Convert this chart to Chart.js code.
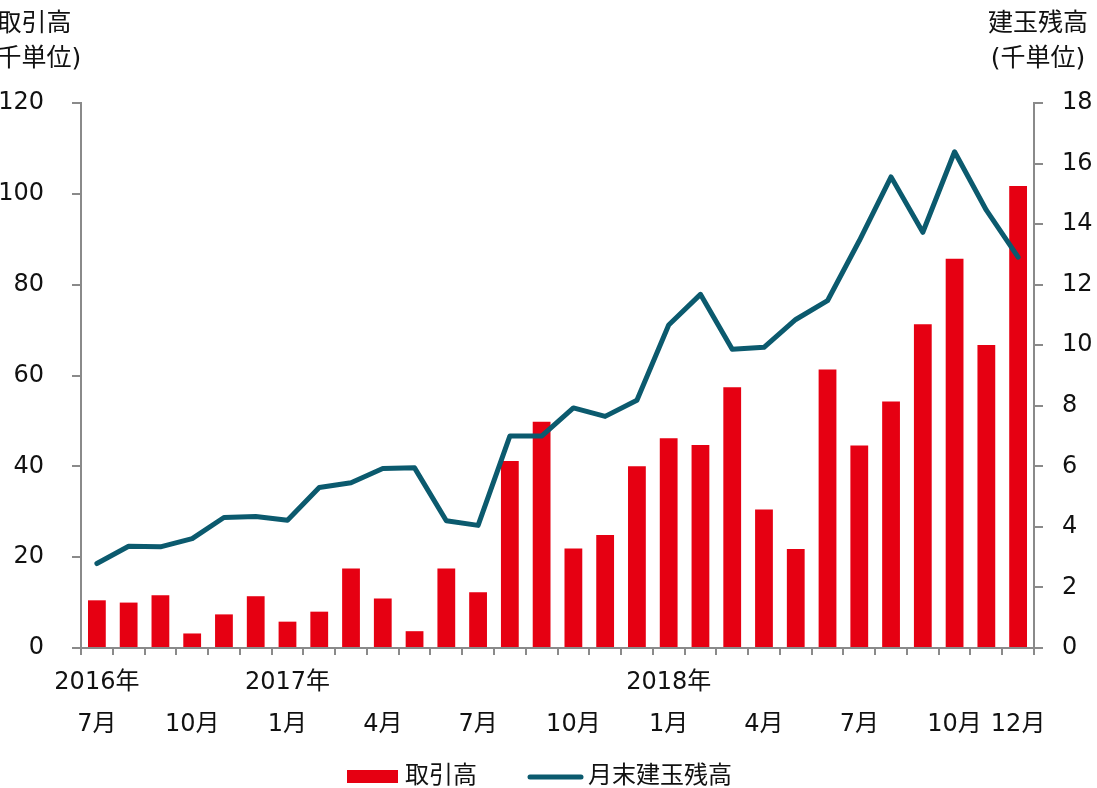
<!DOCTYPE html>
<html lang="ja">
<head>
<meta charset="utf-8">
<title>取引高・月末建玉残高</title>
<script src="https://cdn.jsdelivr.net/npm/chart.js@4.4.1/dist/chart.umd.min.js"></script>
<style>
    html, body { margin: 0; padding: 0; background: #fff; overflow: hidden; }
    #volumeChart { display: block; }
</style>
</head>
<body>
<canvas id="volumeChart" width="1097" height="788"></canvas>
<script>
// monthly data, 2016/7 - 2018/12
const months = [
    '2016年7月', '2016年8月', '2016年9月', '2016年10月', '2016年11月', '2016年12月',
    '2017年1月', '2017年2月', '2017年3月', '2017年4月', '2017年5月', '2017年6月',
    '2017年7月', '2017年8月', '2017年9月', '2017年10月', '2017年11月', '2017年12月',
    '2018年1月', '2018年2月', '2018年3月', '2018年4月', '2018年5月', '2018年6月',
    '2018年7月', '2018年8月', '2018年9月', '2018年10月', '2018年11月', '2018年12月'
];

// 取引高 (千単位) - left axis
const volume = [
    10.5, 10.0, 11.6, 3.2, 7.4, 11.4,
    5.8, 8.0, 17.5, 10.9, 3.7, 17.5,
    12.3, 41.2, 49.8, 21.9, 24.9, 40.0,
    46.2, 44.7, 57.4, 30.5, 21.8, 61.3,
    44.6, 54.3, 71.3, 85.7, 66.7, 101.7
];

// 月末建玉残高 (千単位) - right axis
const openInterest = [
    2.79, 3.36, 3.34, 3.61, 4.31, 4.34,
    4.22, 5.30, 5.46, 5.93, 5.95, 4.20,
    4.05, 7.00, 7.00, 7.93, 7.65, 8.18,
    10.67, 11.68, 9.87, 9.93, 10.85, 11.47,
    13.45, 15.56, 13.73, 16.39, 14.46, 12.91
];

// x axis tick labels (two rows)
const yearTickIndex = [0, 6, 18];
const yearTickText = ['2016年', '2017年', '2018年'];
const monthTickIndex = [0, 3, 6, 9, 12, 15, 18, 21, 24, 27, 29];
const monthTickText = ['7月', '10月', '1月', '4月', '7月', '10月', '1月', '4月', '7月', '10月', '12月'];

const seriesNames = ['取引高', '月末建玉残高'];
const leftTitle = ['取引高', '(千単位)'];
const rightTitle = ['建玉残高', '(千単位)'];

const FONT = "'DejaVu Sans', 'Noto Sans CJK JP', sans-serif";
const AXIS_GREY = '#8a8a8a';
const RED = '#e60012';
const TEAL = '#0b5a6e';

// axis titles + legend, drawn on the canvas
const decorations = {
    id: 'decorations',
    afterDraw(chart) {
        const ctx = chart.ctx;
        ctx.save();
        ctx.fillStyle = '#111';
        ctx.textAlign = 'center';
        ctx.textBaseline = 'middle';
        ctx.font = '25px ' + FONT;
        ctx.fillText(leftTitle[0], 34, 24);
        ctx.fillText(leftTitle[1], 34, 59);
        ctx.fillText(rightTitle[0], 1038, 24);
        ctx.fillText(rightTitle[1], 1038, 59);

        // legend
        const barDs = chart.data.datasets[0];
        const lineDs = chart.data.datasets[1];
        const ly = 777;
        ctx.font = '24px ' + FONT;
        ctx.textAlign = 'left';

        ctx.fillStyle = barDs.backgroundColor;
        ctx.fillRect(347, ly - 7, 51, 13);
        ctx.fillStyle = '#111';
        ctx.fillText(barDs.label, 405, ly);

        ctx.strokeStyle = lineDs.borderColor;
        ctx.lineWidth = lineDs.borderWidth;
        ctx.lineCap = 'round';
        ctx.beginPath();
        ctx.moveTo(530, ly);
        ctx.lineTo(581, ly);
        ctx.stroke();
        ctx.fillText(lineDs.label, 588, ly);
        ctx.restore();
    }
};

document.addEventListener('DOMContentLoaded', () => {
    const canvas = document.getElementById('volumeChart');

    new Chart(canvas, {
        type: 'bar',
        data: {
            labels: months,
            datasets: [
                {
                    type: 'bar',
                    label: seriesNames[0],
                    data: volume,
                    yAxisID: 'y',
                    backgroundColor: RED,
                    borderWidth: 0,
                    barPercentage: 0.56,
                    categoryPercentage: 1.0,
                    order: 2
                },
                {
                    type: 'line',
                    label: seriesNames[1],
                    data: openInterest,
                    yAxisID: 'y1',
                    borderColor: TEAL,
                    backgroundColor: TEAL,
                    borderWidth: 5,
                    borderCapStyle: 'round',
                    borderJoinStyle: 'round',
                    pointRadius: 0,
                    pointHoverRadius: 0,
                    tension: 0,
                    order: 1
                }
            ]
        },
        options: {
            responsive: false,
            animation: false,
            devicePixelRatio: 1,
            layout: { padding: { top: 103, left: 0, right: 0, bottom: 0 } },
            plugins: {
                legend: { display: false },
                tooltip: { enabled: false }
            },
            scales: {
                x: {
                    grid: {
                        display: true,
                        drawOnChartArea: false,
                        drawTicks: true,
                        tickLength: 7,
                        color: AXIS_GREY,
                        lineWidth: 2
                    },
                    border: { color: AXIS_GREY, width: 2 },
                    ticks: {
                        autoSkip: false,
                        maxRotation: 0,
                        minRotation: 0,
                        padding: 7,
                        color: '#111',
                        font: { family: FONT, size: 24, lineHeight: 1.75 },
                        callback: (value, index) => {
                            const yi = yearTickIndex.indexOf(index);
                            const mi = monthTickIndex.indexOf(index);
                            if (yi < 0 && mi < 0) return '';
                            return [yi >= 0 ? yearTickText[yi] : '', mi >= 0 ? monthTickText[mi] : ''];
                        }
                    },
                    afterFit: (scale) => { scale.height = 140; }
                },
                y: {
                    position: 'left',
                    min: 0,
                    max: 120,
                    grid: {
                        display: true,
                        drawOnChartArea: false,
                        tickLength: 9,
                        color: AXIS_GREY,
                        lineWidth: 2
                    },
                    border: { color: AXIS_GREY, width: 2 },
                    ticks: {
                        stepSize: 20,
                        padding: 28,
                        color: '#111',
                        font: { family: FONT, size: 24 }
                    },
                    afterFit: (scale) => { scale.width = 81; }
                },
                y1: {
                    position: 'right',
                    min: 0,
                    max: 18,
                    grid: {
                        display: true,
                        drawOnChartArea: false,
                        tickLength: 9,
                        color: AXIS_GREY,
                        lineWidth: 2
                    },
                    border: { color: AXIS_GREY, width: 2 },
                    ticks: {
                        stepSize: 2,
                        padding: 19,
                        color: '#111',
                        font: { family: FONT, size: 24 }
                    },
                    afterFit: (scale) => { scale.width = 63; }
                }
            }
        },
        plugins: [decorations]
    });
});
</script>
</body>
</html>
